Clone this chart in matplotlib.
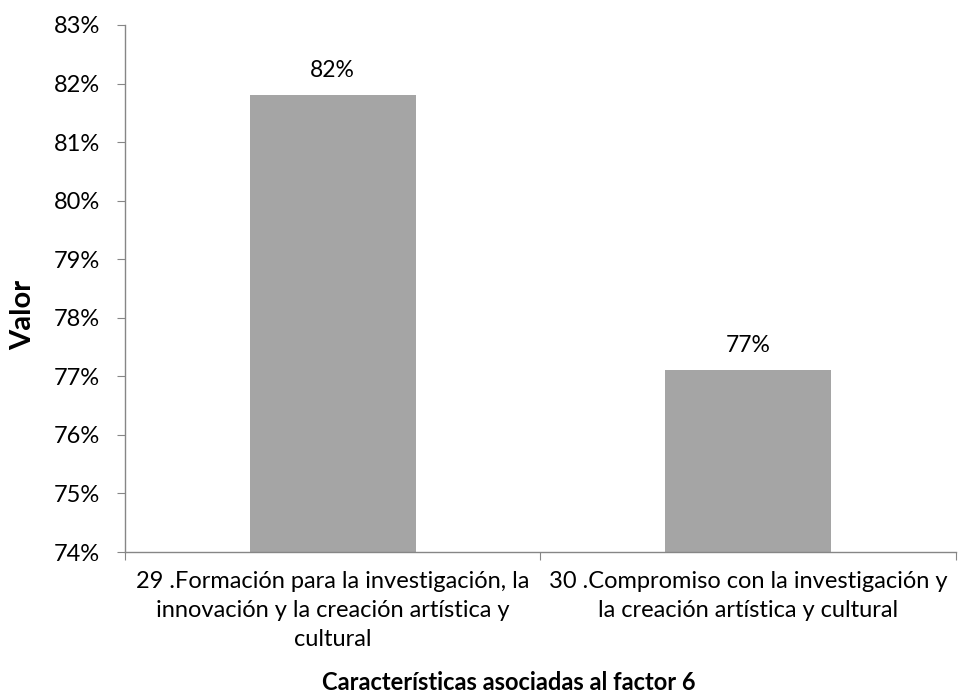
import matplotlib
matplotlib.use('Agg')
import matplotlib.pyplot as plt
from matplotlib.ticker import FuncFormatter

plt.rcParams['font.family'] = ['Lato', 'DejaVu Sans']

# data
categories = ['29 .Formación para la investigación, la\ninnovación y la creación artística y\ncultural',
              '30 .Compromiso con la investigación y\nla creación artística y cultural']
values = [81.8, 77.1]
value_labels = ['82%', '77%']

fig = plt.figure(figsize = (9.59, 6.94), dpi = 100, facecolor = 'white')
ax = fig.add_axes([0.1303, 0.2046, 0.8666, 0.7594])

pos = list(range(len(categories)))
ax.bar(pos, values, width = 0.4, color = '#A5A5A5', zorder = 2)

for p, v, t in zip(pos, values, value_labels):
    ax.annotate(t, (p, v), xytext = (0, 18), textcoords = 'offset points',
                ha = 'center', va = 'center', fontsize = 16.5, color = 'black')

ax.set_ylim(74, 83)
ax.set_xlim(-0.5, 1.5)
ax.set_yticks(range(74, 84))
ax.yaxis.set_major_formatter(FuncFormatter(lambda y, _: '%d%%' % y))

# boundary ticks on x, labels at the category centres
ax.set_xticks([-0.5, 0.5, 1.5])
ax.set_xticklabels(['', '', ''])
ax.set_xticks(pos, minor = True)
ax.set_xticklabels(categories, minor = True, fontsize = 17, linespacing = 1.45)
ax.tick_params(axis = 'x', which = 'minor', length = 0, pad = 14)
ax.tick_params(axis = 'x', which = 'major', length = 6, color = '#868686')
ax.tick_params(axis = 'y', length = 6, color = '#868686', labelsize = 17, pad = 12)

for s in ['top', 'right']:
    ax.spines[s].set_visible(False)
for s in ['left', 'bottom']:
    ax.spines[s].set_color('#868686')
    ax.spines[s].set_linewidth(1)

fig.text(0.024, 0.546, 'Valor', fontsize = 21, fontweight = 'bold',
         rotation = 90, ha = 'center', va = 'center')
fig.text(0.53, 0.016, 'Características asociadas al factor 6', fontsize = 17,
         fontweight = 'bold', ha = 'center', va = 'center')

fig.savefig('out.png', dpi = 100)
